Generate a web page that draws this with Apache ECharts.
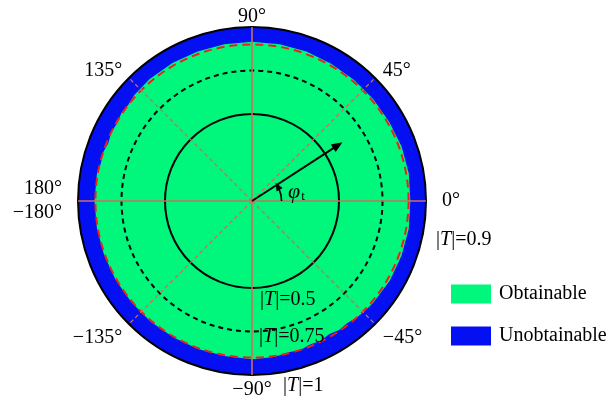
<!DOCTYPE html>
<html>
<head>
<meta charset="utf-8">
<script src="https://cdn.jsdelivr.net/npm/echarts@6.0.0/dist/echarts.min.js"></script>
<style>
html, body { margin: 0; padding: 0; background: #fff; }
#polar { width: 611px; height: 402px; }
</style>
</head>
<body>
<div id="polar"></div>
<script>
// boundary of the obtainable region (|T| vs phase, degrees)
var boundaryAngle = [0, 10, 20, 30, 40, 50, 60, 70, 80, 90, 100, 110, 120, 130, 138, 142, 146, 150, 154, 158, 162, 166, 170,
    180, 190, 200, 210, 220, 230, 240, 250, 260, 270, 278, 284, 288, 292, 296, 300, 304, 308, 312, 316, 320, 330, 340, 350, 360];
var boundaryR = [0.91, 0.915, 0.915, 0.91, 0.91, 0.91, 0.91, 0.915, 0.915, 0.915, 0.915, 0.915, 0.915, 0.915, 0.91, 0.9, 0.905, 0.895, 0.9, 0.89, 0.9, 0.895, 0.905,
    0.905, 0.905, 0.905, 0.905, 0.905, 0.905, 0.905, 0.905, 0.905, 0.91, 0.905, 0.895, 0.9, 0.89, 0.895, 0.885, 0.895, 0.89, 0.9, 0.905, 0.91, 0.915, 0.915, 0.915, 0.91];

var rings = [0.5, 0.75, 0.9, 1];
var spokeAngles = [0, 45, 90, 135, 180, 225, 270, 315];
var angleLabels = {
    0: '{e|0°}', 45: '{ne|45°}', 90: '{n|90°}', 135: '{nw|135°}',
    180: '{w|180°}\n{w|−180°}', 225: '{sw|−135°}', 270: '−90°', 315: '{se|−45°}'
};

// phase arrow
var vecR = 0.62, vecAngle = 33;
var arcR = 0.17, arcEnd = 30;

var FONT = 'Liberation Serif';
var GREEN = '#00f77c', BLUE = '#0410f2', SPOKE = '#c8705e';

var myChart = echarts.init(document.getElementById('polar'));

function centerOf(api) { return api.coord([0, 0]); }
function pxRadius(api, r) {
    var c = api.coord([0, 0]), p = api.coord([r, 0]);
    return Math.sqrt((p[0] - c[0]) * (p[0] - c[0]) + (p[1] - c[1]) * (p[1] - c[1]));
}

var ringStyles = [
    {stroke: '#000', lineWidth: 2},
    {stroke: '#000', lineWidth: 2, lineDash: [5, 4]},
    {stroke: '#e8231c', lineWidth: 2, lineDash: [8, 5]},
    {stroke: '#000', lineWidth: 2}
];

var option = {
    animation: false,
    polar: { center: [252, 201], radius: 174 },
    radiusAxis: {
        min: 0, max: 1,
        axisLine: { show: false }, axisTick: { show: false },
        axisLabel: { show: false }, splitLine: { show: false }
    },
    angleAxis: {
        type: 'value', min: 0, max: 360, interval: 45,
        startAngle: 0, clockwise: false,
        axisLine: { show: false }, axisTick: { show: false },
        splitLine: { show: false },
        axisLabel: {
            margin: 4,
            fontFamily: FONT, fontSize: 20, color: '#000', lineHeight: 22,
            formatter: function (v) { return angleLabels[v] || ''; },
            rich: {
                e: { padding: [0, 0, 0, 12] },
                w: { padding: [0, 12, 0, 0], lineHeight: 24 },
                n: { lineHeight: 12 },
                ne: { padding: [0, 0, 0, 5], lineHeight: 8 },
                nw: { padding: [0, 4, 0, 0], lineHeight: 8 },
                se: { padding: [0, 0, 0, 5] },
                sw: { padding: [0, 4, 0, 0] }
            }
        }
    },
    legend: {
        orient: 'vertical', left: 446, top: 279,
        itemWidth: 40, itemHeight: 19, itemGap: 22, icon: 'rect',
        textStyle: { fontFamily: FONT, fontSize: 20, color: '#000', padding: [0, 0, 0, 3] },
        data: ['Obtainable', 'Unobtainable']
    },
    series: [
        {
            name: 'Unobtainable', type: 'custom', coordinateSystem: 'polar', z: 1,
            itemStyle: { color: BLUE },
            data: [[1, 0]],
            renderItem: function (params, api) {
                var c = centerOf(api);
                return { type: 'circle', shape: { cx: c[0], cy: c[1], r: pxRadius(api, api.value(0)) },
                    style: { fill: BLUE } };
            }
        },
        {
            name: 'Obtainable', type: 'custom', coordinateSystem: 'polar', z: 2,
            itemStyle: { color: GREEN },
            data: boundaryR.map(function (r, i) { return [r, boundaryAngle[i]]; }),
            renderItem: function (params, api) {
                if (params.dataIndex !== 0) return null;
                var pts = boundaryR.map(function (r, i) { return api.coord([r, boundaryAngle[i]]); });
                return { type: 'polygon', shape: { points: pts }, style: { fill: GREEN } };
            }
        },
        {
            name: 'rings', type: 'custom', coordinateSystem: 'polar', z: 3, silent: true,
            data: rings.map(function (r) { return [r, 0]; }),
            renderItem: function (params, api) {
                var c = centerOf(api);
                var s = ringStyles[params.dataIndex];
                return { type: 'circle', shape: { cx: c[0], cy: c[1], r: pxRadius(api, api.value(0)) },
                    style: { fill: 'none', stroke: s.stroke, lineWidth: s.lineWidth, lineDash: s.lineDash || null },
                    z2: params.dataIndex === 3 ? 10 : 0 };
            }
        },
        {
            name: 'spokes', type: 'custom', coordinateSystem: 'polar', z: 4, silent: true,
            data: spokeAngles.map(function (a) { return [1, a]; }),
            renderItem: function (params, api) {
                var c = centerOf(api);
                var p = api.coord([api.value(0), api.value(1)]);
                var dashed = api.value(1) % 90 !== 0;
                return { type: 'line', shape: { x1: c[0], y1: c[1], x2: p[0], y2: p[1] },
                    style: { stroke: SPOKE, lineWidth: dashed ? 1.3 : 1.6, lineDash: dashed ? [4, 3] : null } };
            }
        },
        {
            name: 'vector', type: 'custom', coordinateSystem: 'polar', z: 6, silent: true,
            data: [[vecR, vecAngle]],
            renderItem: function (params, api) {
                var c = centerOf(api);
                var p = api.coord([api.value(0), api.value(1)]);
                var dx = p[0] - c[0], dy = p[1] - c[1];
                var len = Math.sqrt(dx * dx + dy * dy);
                var ux = dx / len, uy = dy / len;
                var bx = p[0] - ux * 11, by = p[1] - uy * 11;
                return { type: 'group', children: [
                    { type: 'line', shape: { x1: c[0], y1: c[1], x2: bx + ux * 3, y2: by + uy * 3 },
                        style: { stroke: '#000', lineWidth: 2 } },
                    { type: 'polygon', shape: { points: [p, [bx - uy * 4.5, by + ux * 4.5], [bx + uy * 4.5, by - ux * 4.5]] },
                        style: { fill: '#000' } }
                ] };
            }
        },
        {
            name: 'phase', type: 'custom', coordinateSystem: 'polar', z: 6, silent: true,
            data: [[arcR, arcEnd]],
            renderItem: function (params, api) {
                var c = centerOf(api);
                var r = pxRadius(api, api.value(0));
                var end = api.coord([api.value(0), api.value(1)]);
                var a = api.value(1) * Math.PI / 180;
                // tangent pointing counterclockwise on screen
                var tx = -Math.sin(a), ty = -Math.cos(a);
                var bx = end[0] - tx * 4, by = end[1] - ty * 4;
                return { type: 'group', children: [
                    { type: 'arc', shape: { cx: c[0], cy: c[1], r: r, startAngle: 0, endAngle: -a + 0.12, clockwise: false },
                        style: { stroke: '#000', lineWidth: 1.6, fill: 'none' } },
                    { type: 'polygon', shape: { points: [[end[0] + tx * 4, end[1] + ty * 4], [bx - ty * 3.5, by + tx * 3.5], [bx + ty * 3.5, by - tx * 3.5]] },
                        style: { fill: '#000' } }
                ] };
            }
        }
    ],
    graphic: [
        { type: 'text', z: 100, style: { x: 288, y: 192, verticalAlign: 'middle', text: '{p|φ}{s|t}',
            rich: { p: { fontFamily: FONT, fontStyle: 'italic', fontSize: 22, fill: '#000' },
                    s: { fontFamily: FONT, fontSize: 13, fill: '#000', padding: [9, 0, 0, 1] } } } },
        { type: 'text', z: 100, style: { x: 260, y: 300, verticalAlign: 'middle', text: '|{i|T}|=0.5',
            fontFamily: FONT, fontSize: 20, fill: '#000',
            rich: { i: { fontFamily: FONT, fontStyle: 'italic', fontSize: 20, fill: '#000' } } } },
        { type: 'text', z: 100, style: { x: 259, y: 337, verticalAlign: 'middle', text: '|{i|T}|=0.75',
            fontFamily: FONT, fontSize: 20, fill: '#000',
            rich: { i: { fontFamily: FONT, fontStyle: 'italic', fontSize: 20, fill: '#000' } } } },
        { type: 'text', z: 100, style: { x: 283, y: 386, verticalAlign: 'middle', text: '|{i|T}|=1',
            fontFamily: FONT, fontSize: 20, fill: '#000',
            rich: { i: { fontFamily: FONT, fontStyle: 'italic', fontSize: 20, fill: '#000' } } } },
        { type: 'text', z: 100, style: { x: 436, y: 240, verticalAlign: 'middle', text: '|{i|T}|=0.9',
            fontFamily: FONT, fontSize: 20, fill: '#000',
            rich: { i: { fontFamily: FONT, fontStyle: 'italic', fontSize: 20, fill: '#000' } } } }
    ]
};
myChart.setOption(option);
window.addEventListener('resize', function () {
    myChart.resize();
});
</script>
</body>
</html>
